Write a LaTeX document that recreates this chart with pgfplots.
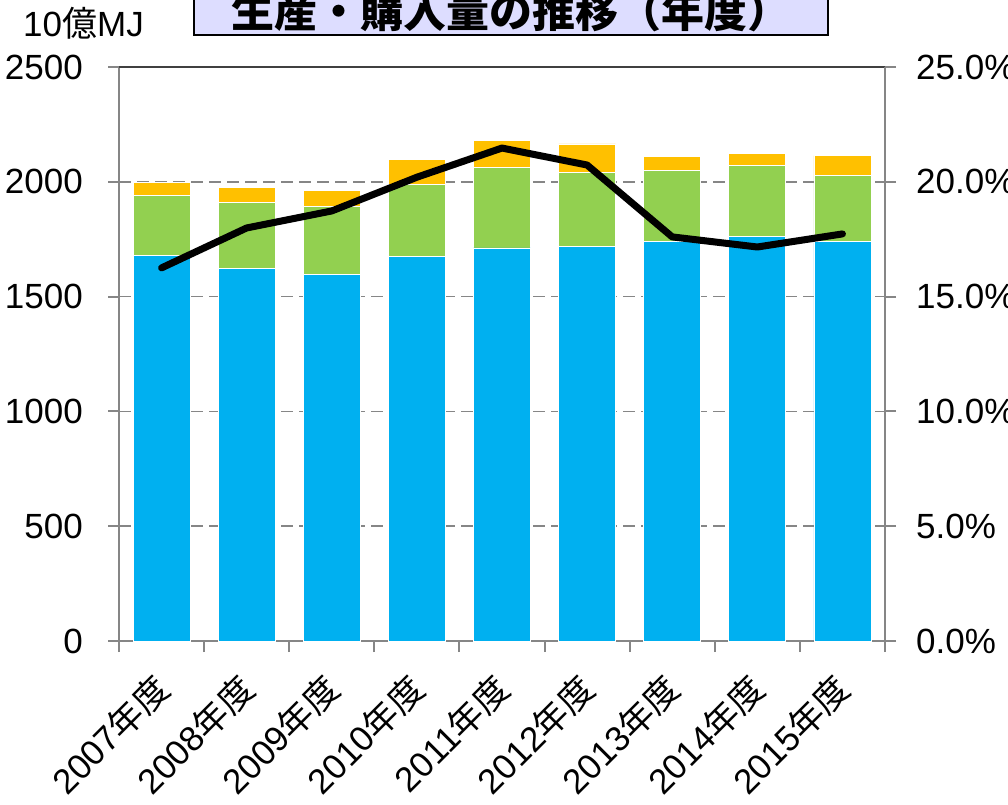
\documentclass[border=0pt]{standalone}
\usepackage{pgfplots}
\pgfplotsset{compat=1.18}
\usepackage{fontspec}
\setmainfont{Liberation Sans}
\newfontfamily\cjk{Noto Sans CJK JP}
\definecolor{cblue}{RGB}{0,176,240}
\definecolor{cgreen}{RGB}{146,208,80}
\definecolor{corange}{RGB}{255,192,0}
\definecolor{cgrid}{RGB}{134,134,134}
\definecolor{ctitle}{RGB}{221,221,255}
\begin{document}
\begin{tikzpicture}
\useasboundingbox (0pt,0pt) rectangle (1008pt,804pt);
\begin{axis}[
  at={(119pt,163pt)}, anchor=south west,
  width=766pt, height=574pt, scale only axis,
  xmin=-0.5, xmax=8.5, ymin=0, ymax=2500,
  ybar stacked, bar width=0.67,
  axis line style={cgrid, line width=2pt},
  xtick={-0.5,0.5,...,8.5}, xticklabels={},
  extra x ticks={0,1,2,3,4,5,6,7,8},
  extra x tick labels={2007{\cjk 年度},2008{\cjk 年度},2009{\cjk 年度},2010{\cjk 年度},2011{\cjk 年度},2012{\cjk 年度},2013{\cjk 年度},2014{\cjk 年度},2015{\cjk 年度}},
  extra x tick style={major tick length=0pt, tick style={draw=none}, grid=none},
  xticklabel style={xshift=1pt, yshift=-41pt, rotate=45, anchor=east, inner sep=0pt, font=\fontsize{35}{40}\selectfont},
  ytick={0,500,1000,1500,2000,2500},
  yticklabels={0,500,1000,1500,2000,2500},
  yticklabel style={anchor=east, inner sep=0pt, xshift=-25pt, font=\fontsize{35}{40}\selectfont},
  tick align=outside, major tick length=11pt,
  tick style={cgrid, line width=2pt},
  xtick pos=bottom, ytick pos=left,
  ymajorgrids, grid style={cgrid, line width=1.6pt, dash pattern=on 12pt off 6pt},
  clip=false,
]
\addplot[fill=cblue, draw=white, line width=0.8pt] coordinates {(0,1678) (1,1621) (2,1595) (3,1675) (4,1712) (5,1717) (6,1741) (7,1761) (8,1741)};
\addplot[fill=cgreen, draw=white, line width=0.8pt] coordinates {(0,261) (1,291) (2,298) (3,314) (4,350) (5,323) (6,310) (7,311) (8,286)};
\addplot[fill=corange, draw=white, line width=0.8pt] coordinates {(0,58) (1,64) (2,71) (3,110) (4,117) (5,125) (6,58) (7,52) (8,87)};
\draw[black!75, line width=2pt] (rel axis cs:0,1) -- (rel axis cs:1,1);
\end{axis}
\begin{axis}[
  at={(119pt,163pt)}, anchor=south west,
  width=766pt, height=574pt, scale only axis,
  xmin=-0.5, xmax=8.5, ymin=0, ymax=25,
  axis x line=none, axis y line*=right,
  axis line style={cgrid, line width=2pt},
  ytick={0,5,10,15,20,25},
  yticklabels={0.0\%,5.0\%,10.0\%,15.0\%,20.0\%,25.0\%},
  yticklabel style={anchor=west, inner sep=0pt, xshift=20pt, font=\fontsize{35}{40}\selectfont},
  tick align=outside, major tick length=11pt,
  tick style={cgrid, line width=2pt},
  clip=false,
]
\addplot[black, line width=7pt, line cap=round, line join=round] coordinates {(0,16.25) (1,17.99) (2,18.73) (3,20.2) (4,21.47) (5,20.73) (6,17.6) (7,17.16) (8,17.73)};
\end{axis}
\node[draw=black, line width=2pt, fill=ctitle, minimum width=634pt, minimum height=48pt, inner sep=0pt, font=\fontsize{43}{48}\selectfont\cjk\bfseries] at (511pt,793pt) {生産・購入量の推移（年度）};
\node[font=\fontsize{35}{40}\selectfont, inner sep=0pt] at (83.5pt,781pt) {10{\cjk 億}MJ};
\end{tikzpicture}
\end{document}
